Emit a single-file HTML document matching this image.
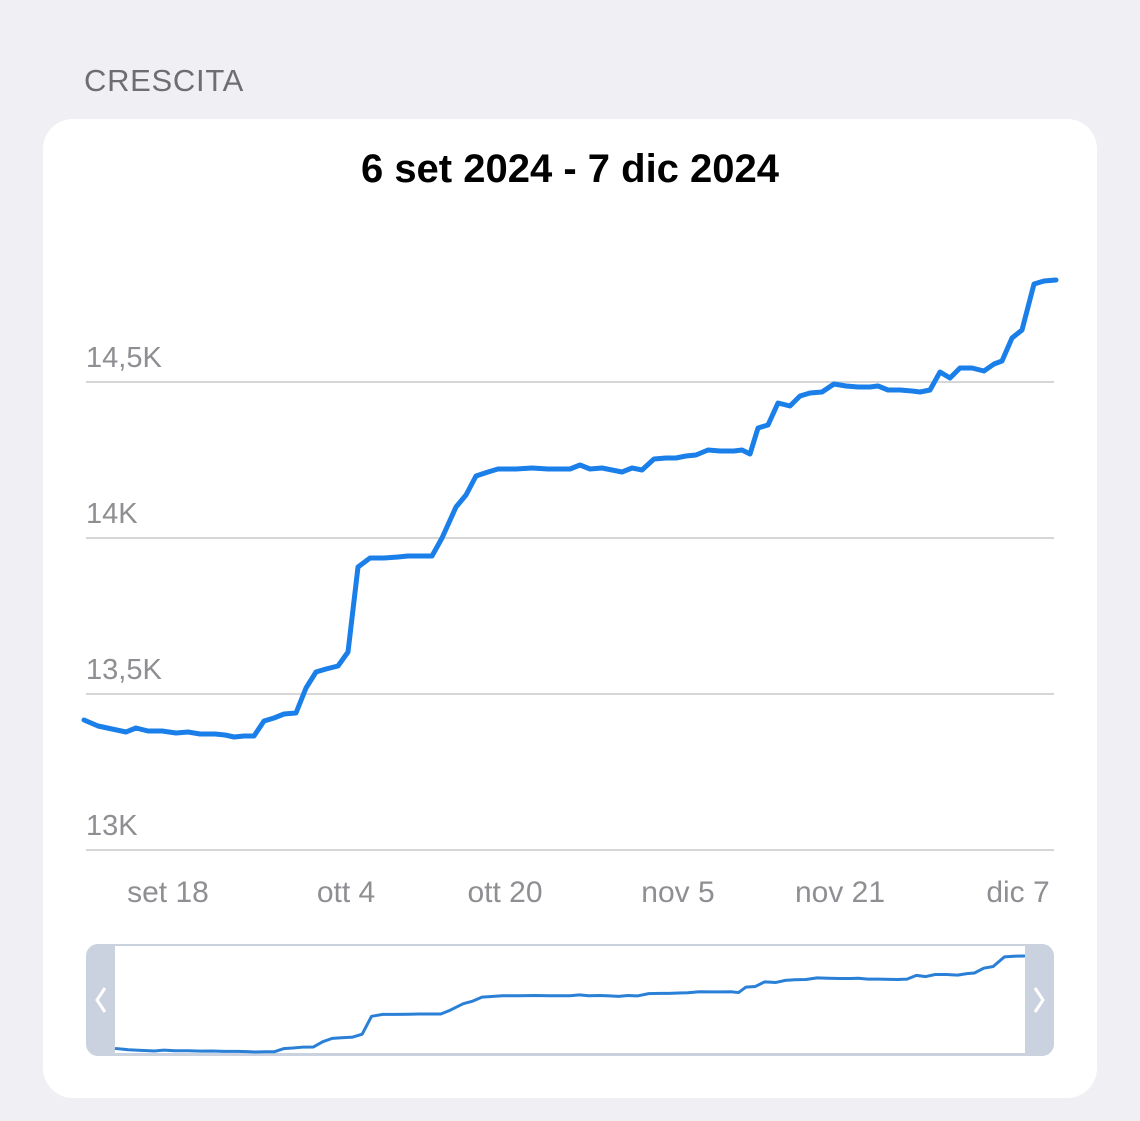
<!DOCTYPE html>
<html><head><meta charset="utf-8"><style>
body{margin:0;width:1140px;height:1121px;background:#efeff4;font-family:"Liberation Sans",sans-serif;overflow:hidden;position:relative}
.card{position:absolute;left:43px;top:119px;width:1054px;height:979px;background:#fff;border-radius:30px}
.t{position:absolute;white-space:nowrap}
</style></head><body>
<div class="t" style="left:84px;top:63px;font-size:31px;color:#6d6d72;letter-spacing:0.7px">CRESCITA</div>
<div class="card"></div>
<div class="t" style="left:0;width:1140px;text-align:center;top:147px;font-size:40px;font-weight:bold;color:#000">6 set 2024 - 7 dic 2024</div>
<svg width="1140" height="1121" style="position:absolute;left:0;top:0">
<g stroke="#c8c8cc" stroke-width="1.5">
<line x1="86" y1="382" x2="1054" y2="382"/><line x1="86" y1="538" x2="1054" y2="538"/>
<line x1="86" y1="694" x2="1054" y2="694"/><line x1="86" y1="850" x2="1054" y2="850"/>
</g>
<g font-size="29" fill="#8e8e93" font-family="Liberation Sans, sans-serif">
<text x="86" y="367">14,5K</text><text x="86" y="523">14K</text><text x="86" y="679">13,5K</text><text x="86" y="835">13K</text>
</g>
<g font-size="30" fill="#8e8e93" font-family="Liberation Sans, sans-serif" text-anchor="middle">
<text x="168" y="902">set 18</text><text x="346" y="902">ott 4</text>
<text x="505" y="902">ott 20</text><text x="678" y="902">nov 5</text>
<text x="840" y="902">nov 21</text><text x="1018" y="902">dic 7</text>
</g>
<polyline id="p" fill="none" stroke="#1a7fe8" stroke-width="5" stroke-linejoin="round" stroke-linecap="round" points="84,720 98,726 112,729 126,732 136,728 148,731 162,731 176,733 188,732 200,734 215,734 225,735 234,737 244,736 254,736 264,721 274,718 284,714 296,713 306,688 316,672 326,669 338,666 348,652 358,567 370,558 384,558 398,557 408,556 432,556 442,538 456,507 466,495 476,476 488,472 498,469 516,469 532,468 548,469 570,469 580,465 590,469 602,468 612,470 622,472 632,468 642,470 654,459 666,458 676,458 686,456 696,455 708,450 720,451 734,451 742,450 750,454 758,428 768,425 778,403 790,406 800,396 810,393 822,392 834,384 846,386 858,387 870,387 878,386 888,390 900,390 912,391 920,392 930,390 940,372 950,378 960,368 972,368 984,371 994,364 1002,361 1012,338 1022,330 1034,284 1044,281 1056,280"/>
<rect x="86" y="944" width="968" height="112" rx="12" fill="#c9d2de"/>
<rect x="115" y="946" width="910" height="107" fill="#fff"/>
<g transform="translate(115,956) scale(0.9362,0.2101) translate(-84,-280)">
<polyline fill="none" stroke="#2a7fd6" stroke-width="3" vector-effect="non-scaling-stroke" stroke-linejoin="round" points="84,720 98,726 112,729 126,732 136,728 148,731 162,731 176,733 188,732 200,734 215,734 225,735 234,737 244,736 254,736 264,721 274,718 284,714 296,713 306,688 316,672 326,669 338,666 348,652 358,567 370,558 384,558 398,557 408,556 432,556 442,538 456,507 466,495 476,476 488,472 498,469 516,469 532,468 548,469 570,469 580,465 590,469 602,468 612,470 622,472 632,468 642,470 654,459 666,458 676,458 686,456 696,455 708,450 720,451 734,451 742,450 750,454 758,428 768,425 778,403 790,406 800,396 810,393 822,392 834,384 846,386 858,387 870,387 878,386 888,390 900,390 912,391 920,392 930,390 940,372 950,378 960,368 972,368 984,371 994,364 1002,361 1012,338 1022,330 1034,284 1044,281 1056,280"/>
</g>
<polyline points="105,988 97,1000 105,1012" fill="none" stroke="#fff" stroke-width="3"/>
<polyline points="1035,988 1043,1000 1035,1012" fill="none" stroke="#fff" stroke-width="3"/>
</svg>
</body></html>
